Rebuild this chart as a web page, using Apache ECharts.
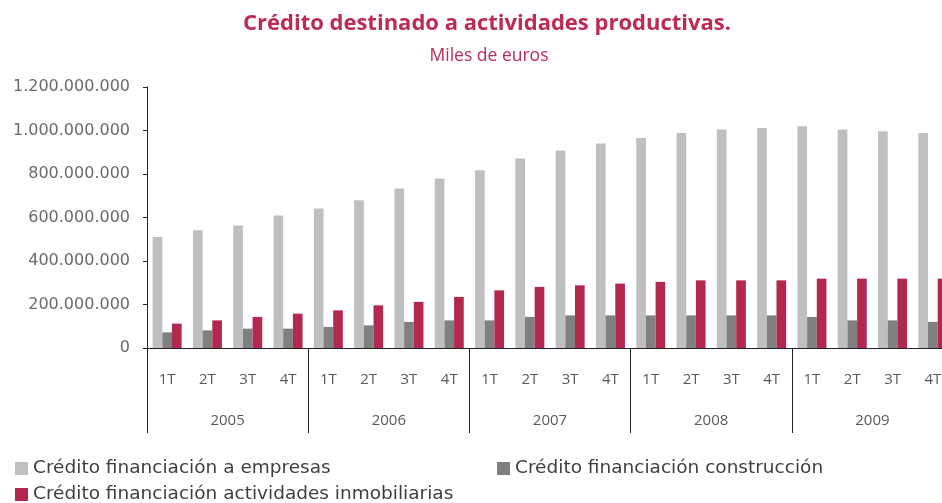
<!DOCTYPE html>
<html>
<head>
<meta charset="utf-8">
<script src="https://cdn.jsdelivr.net/npm/echarts@6/dist/echarts.min.js"></script>
<style>
    html, body { margin: 0; padding: 0; background: #fff; overflow: hidden; }
    #main { width: 960px; height: 503px; }
</style>
</head>
<body>
<div id="main"></div>
<script>
// miles de euros
var trimestres = ['1T','2T','3T','4T','1T','2T','3T','4T','1T','2T','3T','4T','1T','2T','3T','4T','1T','2T','3T','4T'];
var anios = ['2005','2006','2007','2008','2009'];
var empresas = [510000000, 541000000, 563000000, 609000000, 641000000, 679000000, 733000000, 779000000, 817000000, 871000000,
    908000000, 940000000, 966000000, 989000000, 1005000000, 1012000000, 1020000000, 1005000000, 997000000, 989000000];
var construccion = [72000000, 81000000, 89000000, 89000000, 97000000, 104000000, 120000000, 127000000, 127000000, 143000000,
    150000000, 150000000, 150000000, 150000000, 150000000, 150000000, 143000000, 127000000, 127000000, 120000000];
var inmobiliarias = [112000000, 127000000, 143000000, 158000000, 173000000, 196000000, 212000000, 235000000, 265000000, 281000000,
    288000000, 296000000, 304000000, 311000000, 311000000, 311000000, 319000000, 319000000, 319000000, 319000000];
var nombres = ['Crédito financiación a empresas', 'Crédito financiación construcción', 'Crédito financiación actividades inmobiliarias'];

function miles(v){
    return String(v).replace(/\B(?=(\d{3})+(?!\d))/g, '.');
}

// el grafico original sale cortado por la derecha: el lienzo es algo mas ancho que la ventana
var myChart = echarts.init(document.getElementById('main'));
var txt = '#5a5a5a';
var leyenda = { fontFamily: 'DejaVu Sans', fontSize: 18.5, color: '#404040' };
var option = {
    animation: false,
    title: [
        {
            text: 'Crédito destinado a actividades productivas.',
            left: 482, top: 8, textAlign: 'center',
            textStyle: { fontFamily: 'Open Sans', fontSize: 22, fontWeight: 'bold', color: '#bd2b55' }
        },
        {
            text: 'Miles de euros',
            left: 484, top: 42, textAlign: 'center',
            textStyle: { fontFamily: 'Open Sans', fontSize: 17.5, fontWeight: 'normal', color: '#bd2b55' }
        }
    ],
    legend: [
        { data: [nombres[0]], left: 15, top: 459, padding: 0, icon: 'rect', itemWidth: 13, itemHeight: 13, textStyle: leyenda },
        { data: [nombres[1]], left: 497, top: 459, padding: 0, icon: 'rect', itemWidth: 13, itemHeight: 13, textStyle: leyenda },
        { data: [nombres[2]], left: 15, top: 485, padding: 0, icon: 'rect', itemWidth: 13, itemHeight: 13, textStyle: leyenda }
    ],
    grid: { left: 147, width: 806, top: 87, bottom: 155, containLabel: false },
    xAxis: [
        {
            type: 'category',
            data: trimestres,
            axisLine: { lineStyle: { color: '#222', width: 1 } },
            axisTick: { show: false },
            axisLabel: { margin: 24, fontFamily: 'Open Sans', fontSize: 15, color: txt, interval: 0 }
        },
        {
            type: 'category',
            data: anios,
            position: 'bottom',
            axisLine: { show: false },
            axisTick: { show: true, length: 85, lineStyle: { color: '#222', width: 1 } },
            axisLabel: { margin: 65, fontFamily: 'Open Sans', fontSize: 15, color: txt }
        }
    ],
    yAxis: {
        type: 'value',
        min: 0, max: 1200000000, interval: 200000000,
        axisLine: { show: true, lineStyle: { color: '#222', width: 1 } },
        axisTick: { show: true, length: 4, lineStyle: { color: '#222' } },
        splitLine: { show: false },
        axisLabel: { margin: 17, fontFamily: 'DejaVu Sans', fontSize: 16, color: '#6a6a6a', formatter: miles }
    },
    series: [
        { name: nombres[0], type: 'bar', data: empresas, barGap: '0%', barCategoryGap: '28%',
          itemStyle: { color: '#bfbfbf' } },
        { name: nombres[1], type: 'bar', data: construccion,
          itemStyle: { color: '#808080' } },
        { name: nombres[2], type: 'bar', data: inmobiliarias,
          itemStyle: { color: '#b3284f' } }
    ]
};
myChart.setOption(option);
</script>
</body>
</html>
